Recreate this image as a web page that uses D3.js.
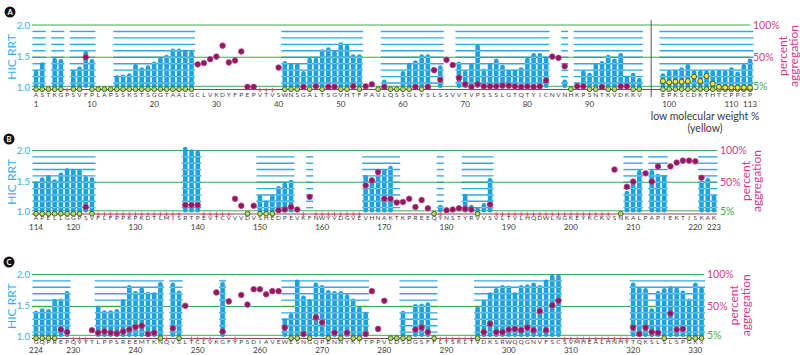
<!DOCTYPE html>
<html>
<head>
<meta charset="utf-8">
<script src="https://cdn.jsdelivr.net/npm/d3@7"></script>
<style>
  body { margin: 0; background: #fff; }
  svg { display: block; font-family: Lato, "Open Sans", sans-serif; }
</style>
</head>
<body>
<svg id="chart" width="800" height="355"></svg>
<script>
// ---- sequences (one letter per residue) ----
const seqA = "ASTKGPSVFPLAPSSKSTSGGTAALGCLVKDYFPEPVTVSWNSGALTSGVHTFPAVLQSSGLYSLSSVVTVPSSSLGTQTYICNVNHKPSNTKVDKKVEPKSCDKTHTCPPCP";
const seqB = "APELLGGPSVFLFPPKPKDTLMISRTPEVTCVVVDVSHEDPEVKFNWYVDGVEVHNAKTKPREEQYNSTYRVVSVLTVLHQDWLNGKEYKCKVSNKALPAPIEKTISKAK";
const seqC = "GQPREPQVYTLPPSREEMTKNQVSLTCLVKGFYPSDIAVEWESNGQPENNYKTTPPVLDSDGSFFLYSKLTVDKSRWQQGNVFSCSVMHEALHNHYTQKSLSLSPGKx";

// ---- HIC relative retention time per residue (null = no bar) ----
const hicA = [1.27, 1.40, null, 1.47, 1.45, null, 1.27, 1.33, 1.58, 1.45,
  null, null, null, 1.19, 1.20, 1.22, 1.37, 1.32, 1.35, 1.41,
  1.48, 1.52, 1.62, 1.62, 1.60, 1.58, null, null, null, null,
  null, null, null, null, null, null, null, null, null, null,
  1.42, 1.38, 1.38, 1.26, 1.47, 1.47, 1.61, 1.64, 1.59, 1.72,
  1.68, 1.53, 1.53, null, null, null, 1.12, null, null, 1.26,
  1.39, 1.43, 1.53, 1.53, null, 1.35, null, null, 1.41, 1.27,
  1.38, 1.69, 1.30, 1.38, 1.46, 1.36, 1.28, 1.28, 1.32, 1.47,
  1.55, 1.55, 1.49, null, null, 1.12, null, null, 1.27, 1.23,
  1.38, 1.42, 1.52, 1.46, 1.55, 1.18, 1.23, 1.15,
  1.22, 1.27, 1.28, 1.32, 1.37, 1.27, 1.27, 1.27, 1.27, 1.27, 1.27, 1.32, 1.25, 1.37, 1.46];
const hicB = [1.49, 1.56, 1.60, 1.53, 1.64, 1.71, 1.70, 1.69, 1.58, 1.56,
  null, null, null, null, null, null, null, null, null, null, null, null, null, null,
  2.06, 2.02, 2.00,
  null, null, null, null, null, null, null, null, null,
  1.27, 1.18, 1.27, 1.42, 1.48, 1.52,
  null, null, null, null, null, null, null, null, null, null, null,
  1.60, 1.55, 1.63, 1.69, 1.75,
  null, null, null, null, null, null, null,
  1.11, null, null, null,
  1.29, 1.11, 1.07, 1.14, 1.55,
  null, null, null, null, null, null, null, null, null, null, null,
  null, null, null, null, null, null, null, null, null, null,
  1.34, 1.49, 1.68, null, 1.68, 1.62, 1.60,
  null, null, null, null, null,
  1.51, 1.55, 1.27];
const hicC = [1.41, 1.45, 1.44, 1.60, 1.61, 1.73,
  null, null, null, null,
  1.49, 1.42, 1.42, 1.44, 1.60, 1.83, 1.73, 1.79, 1.72, 1.71, 1.88,
  null, 1.87, 1.74,
  null, null, null, null, null, null,
  1.88,
  null, null, null, null, null, null, null, null, null,
  1.29, 1.37, 1.92, 1.66, 1.60, 1.87, 1.83, 1.75, 1.73, 1.73, 1.68, 1.61, 1.48, 1.39,
  null, null, null, null, null,
  1.41, null, 1.52, 1.53, 1.55,
  null, null, null, null, null, null, null,
  1.48, 1.59, 1.71, 1.78, 1.83, 1.82, 1.71, 1.83, 1.84, 1.87, 1.83, 1.92, 2.00, 2.00,
  null, null, null, null, null, null, null, null, null, null, null,
  1.87, 1.79, 1.78, 1.45, 1.73, 1.78, 1.81, 1.79, 1.74, 1.61, 1.87, 1.79];

// ---- percent aggregation per residue: number = value, "o" = below 5 %, "x" = not covered ----
const aggA = ["o", "o", "o", "o", "o", "x", "o", "o", 50, "o",
  "o", "o", "o", "o", "o", "o", "o", "o", "o", "o",
  "o", "o", "o", "o", "o", "o", 39, 41, 47, 51,
  68, 42, 45, 59, 4, 4, "x", "x", "x", 34,
  "o", "o", "o", 4, "o", 5, "o", 4, 4, "o",
  "o", 5, "o", 5, 8, "o", 4, "o", "o", "o",
  "o", 4, "o", 4, 30, 15, 46, 38, 18, 8,
  4, 8, 5, 5, 5, 6, 6, 5, 4, 5,
  4, 5, 14, 51, 49, 36, "o", 5, 5, "o",
  "o", 4, "o", "o", 5, 5, "o", "o",
  "o", "o", "o", "o", "o", "o", "o", "o", "o", "o", "o", "o", "o", "o", "o"];
const aggB = ["o", "o", "o", "o", "o", "o", "o", "o", 11, "o",
  "x", "x", "x", "x", "x", "x", "x", "x", "x", "x", "x", "x", "x", "x",
  14, 14, 14,
  "x", "x", "x", "x", "x",
  24, 13, "o", 13,
  "o", "o", "o", 6, 7, 11, 7,
  "x", 27,
  "x", "x", "x", "x", "x", "x", "x", "x",
  45, 53, 66, 24, 24, 18, 19, 24, 11, 22, 9, "o",
  "x",
  6, 7, 9, 8, 7, "o", null, 15,
  "x", "x", "x", "x", "x", "x", "x", "x", "x", "x",
  "x", "x", "x", "x", "x", "x", "x", "x", "x",
  70, "o", 43, 51, null, 64, 51, 75, null, 75, 81, 84, 84, 83, 57, null, null];
const aggC = ["o", "o", "o", "o", 14, 10,
  "x", "x", "x",
  13, 9, 11, 9, 8, 11, 14, 18, 20, 7, 9, "o",
  "x",
  16, "o", 51,
  "x", "x", "x", "x",
  72, 11, 58, "x", 68, 53, 77, 77, 69, 74, 74,
  17, "o", "o", 7, "o", 33, 25, "o", 9, "o", 9, "o", "o", 7,
  74, 15, 59, "o", "o", "o", "o", 14, 17, 10, "o",
  "x", "x", "x", "x", "x", "x",
  "o", 10, 23, 10, 10, 14, 15, 13, 17, 13, 43, 13, 52, 59,
  "x", "x", "x", "x", "x", "x", "x", "x", "x", "x", "x",
  17, 7, 17, 10, 9, "o", 39, 14, 15, "o", "o", "o"];

// low molecular weight % (yellow), residues 99-113 of panel A
const lmwA = [13, 11, 12, 12, 13, 20, 13, 21, 9, 4, 2, 2, 1, 1, 1];

// residue ranges covered by the HIC grid
const segsA = [[1, 2], [4, 5], [7, 10], [14, 26], [41, 53], [57, 66], [69, 83], [86, 86], [88, 98], [99, 113]];
const segsB = [[114, 123], [138, 140], [150, 155], [158, 158], [167, 172], [179, 179], [183, 187], [209, 211], [213, 215], [221, 223]];
const segsC = [[224, 229], [234, 244], [246, 247], [254, 254], [264, 277], [283, 288], [295, 308], [320, 331]];

// residue number labels
const ticksA = [1, 10, 20, 30, 40, 50, 60, 70, 80, 90, 100, 110, 113];
const ticksB = [114, 120, 130, 140, 150, 160, 170, 180, 190, 200, 210, 220, 223];
const ticksC = [224, 230, 240, 250, 260, 270, 280, 290, 300, 310, 320, 330];

const COLORS = {
  blue: "#1ca2dd",
  grid: "#2fa9e1",
  stripe: "#86d0f1",
  green: "#3dab4f",
  magenta: "#d13c8e",
  dot: "#8a1b5c",
  base: "#7a3347",
  red: "#e4465f",
  text: "#3a3a3a"
};

const panels = [
  { id: "A", start: 1, seq: seqA, hic: hicA, agg: aggA, segs: segsA, ticks: ticksA,
    top: 25, base: 87, letterY: 97, numY: 106.5, gapAfter: 98, gap: 2.8,
    lineEnd: 750, pctX: 753, percentX: 787, aggX: 798, circle: [10, 12] },
  { id: "B", start: 114, seq: seqB, hic: hicB, agg: aggB, segs: segsB, ticks: ticksB,
    top: 150.5, base: 211.5, letterY: 220, numY: 229.5,
    lineEnd: 717, pctX: 720, percentX: 750, aggX: 761, circle: [9, 139] },
  { id: "C", start: 224, seq: seqC, hic: hicC, agg: aggC, segs: segsC, ticks: ticksC,
    top: 274.5, base: 336, letterY: 343.5, numY: 353,
    lineEnd: 704, pctX: 707, percentX: 738, aggX: 750, circle: [9, 262] }
];

const svg = d3.select("#chart");
const X0 = 36, STEP = 6.22;

function drawPanel(p) {
  const g = svg.append("g");
  const slot = r => r - p.start + (p.gapAfter && r > p.gapAfter ? p.gap : 0);
  const x = d3.scaleLinear().domain([0, 1]).range([X0, X0 + STEP]);
  const xr = r => x(slot(r));
  const yR = d3.scaleLinear().domain([1, 2]).range([p.base, p.top]);
  const yP = d3.scaleLinear().domain([0, 100]).range([p.base + 2.5, p.top]);

  const residues = p.seq.split("").map((aa, i) => ({
    r: p.start + i, aa, hic: p.hic[i], agg: p.agg[i]
  }));
  const levels = d3.range(10, 100, 10);

  // blue grid segments
  p.segs.forEach(([a, b]) => {
    g.selectAll(null).data(levels).join("line")
      .attr("x1", xr(a) - 3.5).attr("x2", xr(b) + 3.5)
      .attr("y1", d => yP(d)).attr("y2", d => yP(d))
      .attr("stroke", COLORS.grid).attr("stroke-width", 1.4);
  });

  // green reference lines
  g.selectAll(null).data([5, 50, 100]).join("line")
    .attr("x1", 32).attr("x2", p.lineEnd)
    .attr("y1", d => yP(d)).attr("y2", d => yP(d))
    .attr("stroke", COLORS.green).attr("stroke-width", 1);

  // bars
  const bars = residues.filter(d => d.hic != null);
  g.selectAll(null).data(bars).join("rect")
    .attr("x", d => xr(d.r) - 2.3).attr("width", 4.6)
    .attr("y", d => yR(d.hic)).attr("height", d => p.base - yR(d.hic) + 1)
    .attr("rx", 2.2)
    .attr("fill", COLORS.blue);
  bars.forEach(d => {
    g.selectAll(null).data(levels.filter(l => yP(l) > yR(d.hic) + 1.5)).join("line")
      .attr("x1", xr(d.r) - 2.3).attr("x2", xr(d.r) + 2.3)
      .attr("y1", l => yP(l)).attr("y2", l => yP(l))
      .attr("stroke", COLORS.stripe).attr("stroke-width", 1);
  });

  // 0 % baseline
  g.append("line")
    .attr("x1", 32).attr("x2", p.lineEnd)
    .attr("y1", yP(0)).attr("y2", yP(0))
    .attr("stroke", COLORS.base).attr("stroke-width", 0.9);

  // not covered marks
  const crosses = residues.filter(d => d.agg === "x");
  g.selectAll(null).data(crosses).join("path")
    .attr("d", d => {
      const cx = xr(d.r), cy = yP(0);
      return `M${cx},${cy - 1.8}V${cy + 2.6}M${cx - 1.7},${cy + 0.4}H${cx + 1.7}`;
    })
    .attr("stroke", COLORS.red).attr("stroke-width", 0.9).attr("fill", "none");

  // below-detection rings
  g.selectAll(null).data(residues.filter(d => d.agg === "o")).join("circle")
    .attr("cx", d => xr(d.r)).attr("cy", yP(0.5)).attr("r", 2.4)
    .attr("fill", "#bcd66c").attr("stroke", "#2f5a1c").attr("stroke-width", 0.9);

  // low molecular weight (yellow)
  if (p.id === "A") {
    g.selectAll(null).data(lmwA).join("circle")
      .attr("cx", (d, i) => xr(99 + i)).attr("cy", d => yP(Math.max(d, 3)))
      .attr("r", 2.5)
      .attr("fill", "#f1e63f").attr("stroke", "#4d4a12").attr("stroke-width", 0.9);
  }

  // aggregation dots
  g.selectAll(null).data(residues.filter(d => typeof d.agg === "number")).join("circle")
    .attr("cx", d => xr(d.r)).attr("cy", d => yP(d.agg)).attr("r", 2.8)
    .attr("fill", COLORS.dot).attr("stroke", "#c4388c").attr("stroke-width", 0.8);

  // left axis
  const left = g.append("g").attr("transform", "translate(31,0)")
    .call(d3.axisLeft(yR).tickValues([1, 1.5, 2]).tickFormat(d3.format(".1f")).tickSize(0).tickPadding(1));
  left.select(".domain").remove();
  left.selectAll("text").attr("fill", "#39aee3").attr("font-size", 9.5)
    .attr("font-family", "Lato, sans-serif");

  g.append("text")
    .attr("transform", `translate(16,${(p.top + p.base) / 2 + 1}) rotate(-90)`)
    .attr("text-anchor", "middle").attr("fill", "#39aee3").attr("font-size", 12)
    .text("HIC RRT");

  // right percent axis
  const right = g.append("g").attr("transform", `translate(${p.pctX},0)`)
    .call(d3.axisRight(yP).tickValues([5, 50, 100]).tickFormat(d => d + "%").tickSize(0).tickPadding(0));
  right.select(".domain").remove();
  right.selectAll("text").attr("font-size", 10.5).attr("font-family", "Lato, sans-serif")
    .attr("fill", d => d === 5 ? COLORS.green : COLORS.magenta);

  const mid = (p.top + p.base) / 2;
  g.append("text")
    .attr("transform", `translate(${p.percentX},${mid}) rotate(-90)`)
    .attr("text-anchor", "middle").attr("fill", COLORS.magenta).attr("font-size", 12)
    .text("percent");
  g.append("text")
    .attr("transform", `translate(${p.aggX},${mid}) rotate(-90)`)
    .attr("text-anchor", "middle").attr("fill", COLORS.magenta).attr("font-size", 12)
    .text("aggregation");

  // residue letters and numbers
  g.selectAll(null).data(residues).join("text")
    .attr("x", d => xr(d.r)).attr("y", p.letterY)
    .attr("text-anchor", "middle").attr("font-size", 6.5)
    .attr("fill", d => d.aa === "x" ? COLORS.magenta : COLORS.text)
    .text(d => d.aa);
  g.selectAll(null).data(p.ticks).join("text")
    .attr("x", d => xr(d)).attr("y", p.numY)
    .attr("text-anchor", "middle").attr("font-size", 8).attr("fill", COLORS.text)
    .text(d => d);

  // panel letter
  g.append("circle").attr("cx", p.circle[0]).attr("cy", p.circle[1]).attr("r", 5.5).attr("fill", "#111");
  g.append("text").attr("x", p.circle[0]).attr("y", p.circle[1] + 2.6)
    .attr("text-anchor", "middle").attr("font-size", 7.5).attr("font-weight", "bold")
    .attr("fill", "#fff").text(p.id);

  if (p.gapAfter) {
    const sx = (xr(p.gapAfter) + xr(p.gapAfter + 1)) / 2;
    g.append("line").attr("x1", sx).attr("x2", sx).attr("y1", 20).attr("y2", 97)
      .attr("stroke", "#555").attr("stroke-width", 1);
  }
}

panels.forEach(drawPanel);

// legend note for the yellow markers
svg.append("text").attr("x", 705).attr("y", 119.5).attr("text-anchor", "middle")
  .attr("font-size", 10.5).attr("fill", COLORS.text).text("low molecular weight %");
svg.append("text").attr("x", 705).attr("y", 132).attr("text-anchor", "middle")
  .attr("font-size", 10.5).attr("fill", COLORS.text).text("(yellow)");
</script>
</body>
</html>
